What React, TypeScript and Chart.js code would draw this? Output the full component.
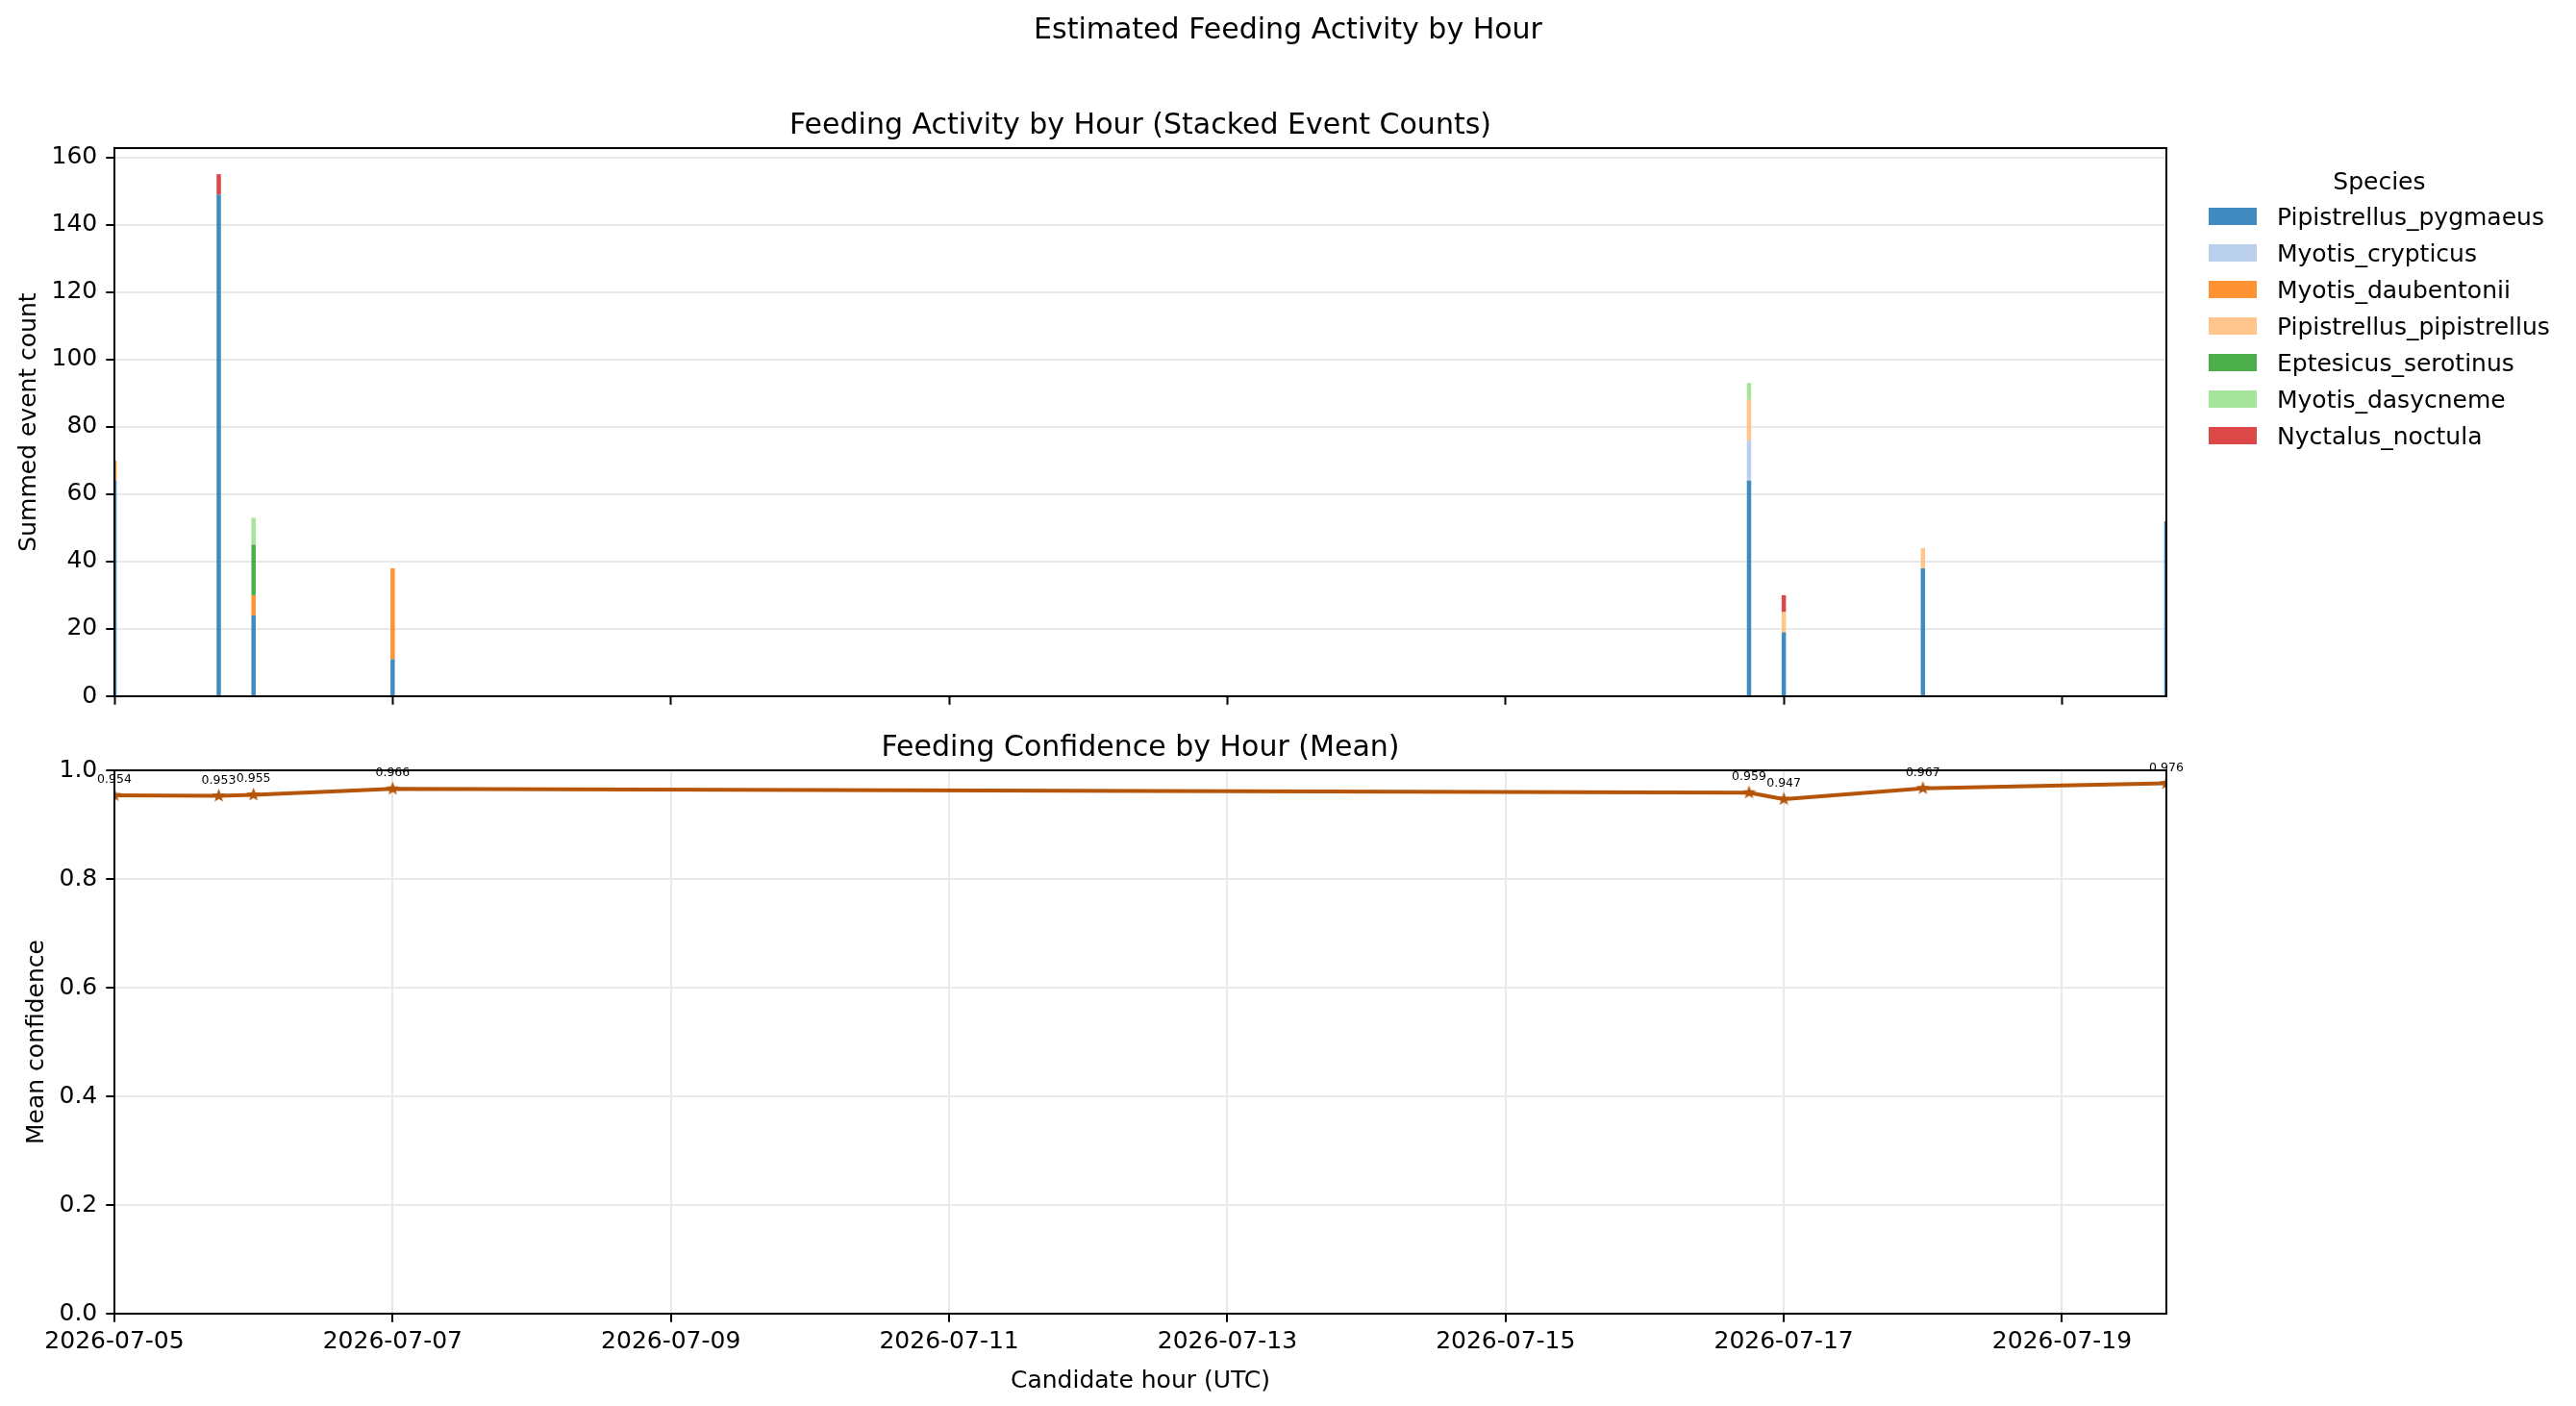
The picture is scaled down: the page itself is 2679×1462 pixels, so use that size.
import { useEffect, useRef } from "react";
import { Chart, registerables } from "chart.js";

Chart.register(...registerables);

const FONT = '"DejaVu Sans", sans-serif';

// candidate hours (UTC) that had events
const hours = [
  "2026-07-05T00:00", "2026-07-05T18:00", "2026-07-06T00:00", "2026-07-07T00:00",
  "2026-07-16T18:00", "2026-07-17T00:00", "2026-07-18T00:00", "2026-07-19T18:00",
];

const speciesNames = [
  "Pipistrellus_pygmaeus", "Myotis_crypticus", "Myotis_daubentonii", "Pipistrellus_pipistrellus",
  "Eptesicus_serotinus", "Myotis_dasycneme", "Nyctalus_noctula",
];

// summed event counts per hour, one array per species
const pygmaeus = [64, 149, 24, 11, 64, 19, 38, 52];
const crypticus = [0, 0, 0, 0, 12, 0, 0, 0];
const daubentonii = [6, 0, 6, 27, 0, 0, 0, 0];
const pipistrellus = [0, 0, 0, 0, 12, 6, 6, 0];
const serotinus = [0, 0, 15, 0, 0, 0, 0, 0];
const dasycneme = [0, 0, 8, 0, 5, 0, 0, 0];
const noctula = [0, 6, 0, 0, 0, 5, 0, 0];
const speciesCounts = [pygmaeus, crypticus, daubentonii, pipistrellus, serotinus, dasycneme, noctula];

// mean feeding confidence per hour
const meanConfidence = [0.954, 0.953, 0.955, 0.966, 0.959, 0.947, 0.967, 0.976];

const speciesColors = [
  "rgba(31,119,180,0.85)", "rgba(174,199,232,0.85)", "rgba(255,127,14,0.85)", "rgba(255,187,120,0.85)",
  "rgba(44,160,44,0.85)", "rgba(152,223,138,0.85)", "rgba(214,39,40,0.85)",
];
const lineColor = "#b5550a";

const t0 = Date.parse(hours[0] + ":00Z");
const hourX = hours.map((h) => (Date.parse(h + ":00Z") - t0) / 3600000);
const xMax = hourX[hourX.length - 1];
const fmtDay = (v: number) => new Date(t0 + v * 3600000).toISOString().slice(0, 10);

const GRID = "#e9e9e9";
const LW = 2;
const TICK = 8.75;

function makeStar(color: string, r: number) {
  const c = document.createElement("canvas");
  const s = Math.ceil(r * 2 + 2);
  c.width = s; c.height = s;
  const g = c.getContext("2d")!;
  g.translate(s / 2, s / 2);
  g.beginPath();
  for (let i = 0; i < 10; i++) {
    const rr = i % 2 === 0 ? r : r * 0.42;
    const a = -Math.PI / 2 + (i * Math.PI) / 5;
    g.lineTo(Math.cos(a) * rr, Math.sin(a) * rr);
  }
  g.closePath();
  g.fillStyle = color;
  g.fill();
  return c;
}

function text(ctx: CanvasRenderingContext2D, s: string, x: number, y: number, size: number) {
  ctx.save();
  ctx.font = `${size}px ${FONT}`;
  ctx.fillStyle = "#000";
  ctx.textAlign = "center";
  ctx.textBaseline = "alphabetic";
  ctx.fillText(s, x, y);
  ctx.restore();
}

function vtext(ctx: CanvasRenderingContext2D, s: string, x: number, y: number, size: number) {
  ctx.save();
  ctx.translate(x, y);
  ctx.rotate(-Math.PI / 2);
  ctx.font = `${size}px ${FONT}`;
  ctx.fillStyle = "#000";
  ctx.textAlign = "center";
  ctx.textBaseline = "alphabetic";
  ctx.fillText(s, 0, 0);
  ctx.restore();
}

const spines = {
  id: "spines",
  afterDraw(chart: any) {
    const { ctx, chartArea: a } = chart;
    ctx.save();
    ctx.strokeStyle = "#000";
    ctx.lineWidth = LW;
    ctx.strokeRect(a.left, a.top, a.right - a.left, a.bottom - a.top);
    ctx.restore();
  },
};

const tickFont = { family: FONT, size: 25 };

export default function App() {
  const topRef = useRef<HTMLCanvasElement | null>(null);
  const botRef = useRef<HTMLCanvasElement | null>(null);

  useEffect(() => {
    if (!topRef.current || !botRef.current) return;

    const top = new Chart(topRef.current, {
      type: "bar",
      data: {
        datasets: speciesNames.map((name, k) => ({
          label: name,
          data: hourX.map((x, i) => ({ x, y: speciesCounts[k][i] || null })),
          backgroundColor: speciesColors[k],
          borderWidth: 0,
          barThickness: 4.5,
          inflateAmount: 0,
          clip: 0,
        })),
      },
      options: {
        animation: false,
        responsive: false,
        devicePixelRatio: 1,
        events: [],
        layout: { autoPadding: false, padding: { left: 0, top: 154, right: 426, bottom: 24 } },
        plugins: { legend: { display: false }, tooltip: { enabled: false } },
        scales: {
          x: {
            type: "linear", min: 0, max: xMax, stacked: true, offset: false,
            ticks: { display: false, stepSize: 48, autoSkip: false, includeBounds: false },
            grid: { offset: false, drawOnChartArea: false, drawTicks: true, tickLength: TICK, tickColor: "#000", tickWidth: LW },
            border: { display: false },
            afterFit: (s: any) => { s.height = 12; },
          },
          y: {
            stacked: true, min: 0, max: 162.75,
            ticks: { stepSize: 20, includeBounds: false, color: "#000", font: tickFont, padding: 9 },
            grid: { color: GRID, lineWidth: LW, tickLength: TICK, tickColor: "#000", tickWidth: LW },
            border: { display: false },
            afterFit: (s: any) => { s.width = 119; },
          },
        },
      } as any,
      plugins: [
        spines,
        {
          id: "topText",
          afterDraw(chart: any) {
            const { ctx, chartArea: a } = chart;
            text(ctx, "Estimated Feeding Activity by Hour", chart.width / 2, 40, 30);
            text(ctx, "Feeding Activity by Hour (Stacked Event Counts)", (a.left + a.right) / 2, a.top - 15, 30);
            vtext(ctx, "Summed event count", 37, (a.top + a.bottom) / 2, 25);
            // legend
            ctx.save();
            ctx.font = `25px ${FONT}`;
            const ds = chart.data.datasets;
            const maxW = Math.max(...ds.map((d: any) => ctx.measureText(d.label).width));
            const bx = a.right + 44;
            const tx = bx + 71;
            ctx.restore();
            text(ctx, "Species", (bx + tx + maxW) / 2, a.top + 43, 25);
            ds.forEach((d: any, i: number) => {
              const by = a.top + 62 + 38 * i;
              ctx.save();
              ctx.fillStyle = d.backgroundColor;
              ctx.fillRect(bx, by, 50, 18);
              ctx.font = `25px ${FONT}`;
              ctx.fillStyle = "#000";
              ctx.textAlign = "left";
              ctx.textBaseline = "alphabetic";
              ctx.fillText(d.label, tx, by + 18);
              ctx.restore();
            });
          },
        },
      ],
    });

    const bot = new Chart(botRef.current, {
      type: "line",
      data: {
        datasets: [
          {
            label: "Mean confidence",
            data: hourX.map((x, i) => ({ x, y: meanConfidence[i] })),
            borderColor: lineColor,
            backgroundColor: lineColor,
            borderWidth: 4,
            borderJoinStyle: "round",
            tension: 0,
            pointStyle: makeStar(lineColor, 7.5),
            pointRadius: 7,
            clip: 0,
          },
        ],
      },
      options: {
        animation: false,
        responsive: false,
        devicePixelRatio: 1,
        events: [],
        layout: { autoPadding: false, padding: { left: 0, top: 41, right: 426, bottom: 36 } },
        plugins: { legend: { display: false }, tooltip: { enabled: false } },
        scales: {
          x: {
            type: "linear", min: 0, max: xMax, offset: false,
            ticks: {
              stepSize: 48, autoSkip: false, includeBounds: false, maxRotation: 0,
              color: "#000", font: tickFont, padding: 6,
              callback: (v: any) => fmtDay(Number(v)),
            },
            grid: { color: GRID, lineWidth: LW, tickLength: TICK, tickColor: "#000", tickWidth: LW },
            border: { display: false },
            afterFit: (s: any) => { s.height = 60; },
          },
          y: {
            min: 0, max: 1,
            ticks: { stepSize: 0.2, color: "#000", font: tickFont, padding: 9, callback: (v: any) => Number(v).toFixed(1) },
            grid: { color: GRID, lineWidth: LW, tickLength: TICK, tickColor: "#000", tickWidth: LW },
            border: { display: false },
            afterFit: (s: any) => { s.width = 119; },
          },
        },
      } as any,
      plugins: [
        spines,
        {
          id: "botText",
          afterDatasetsDraw(chart: any) {
            const { ctx } = chart;
            const meta = chart.getDatasetMeta(0);
            meta.data.forEach((pt: any, i: number) => {
              text(ctx, meanConfidence[i].toFixed(3), pt.x, pt.y - 13, 12.5);
            });
          },
          afterDraw(chart: any) {
            const { ctx, chartArea: a } = chart;
            text(ctx, "Feeding Confidence by Hour (Mean)", (a.left + a.right) / 2, a.top - 15, 30);
            text(ctx, "Candidate hour (UTC)", (a.left + a.right) / 2, a.bottom + 77, 25);
            vtext(ctx, "Mean confidence", 45, (a.top + a.bottom) / 2, 25);
          },
        },
      ],
    });

    return () => { top.destroy(); bot.destroy(); };
  }, []);

  return (
    <div style={{ position: "absolute", left: 0, top: 0, width: 2679, height: 1462, background: "#fff" }}>
      <canvas ref={topRef} width={2679} height={760} style={{ position: "absolute", left: 0, top: 0, display: "block" }} />
      <canvas ref={botRef} width={2679} height={702} style={{ position: "absolute", left: 0, top: 760, display: "block" }} />
    </div>
  );
}
